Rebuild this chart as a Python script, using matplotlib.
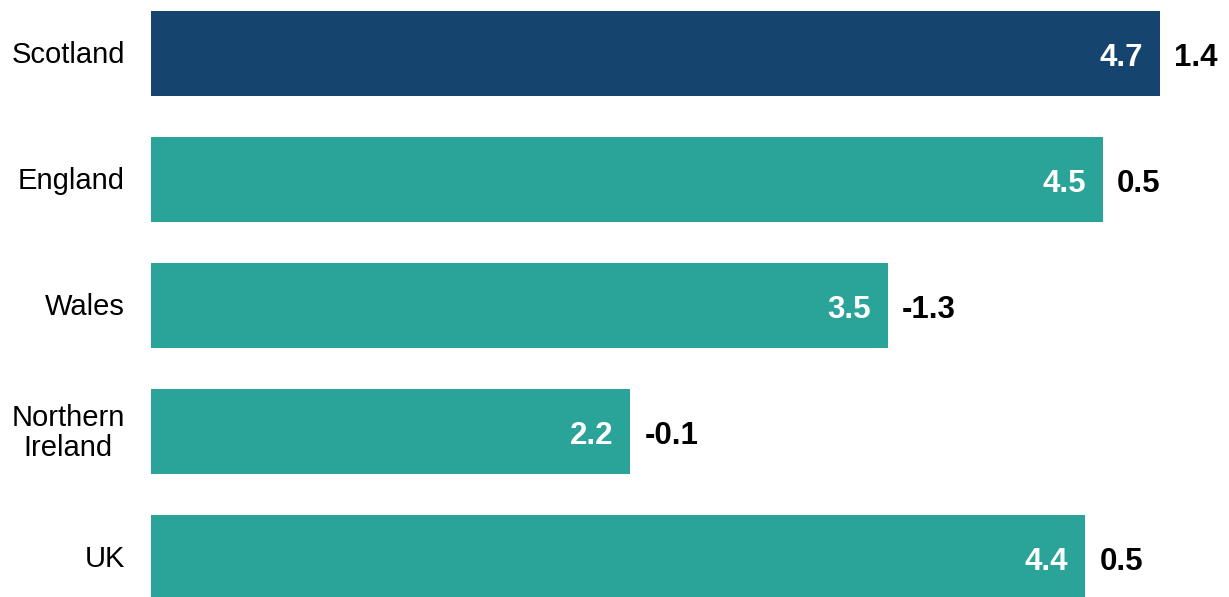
import matplotlib
matplotlib.use("Agg")
import matplotlib.pyplot as plt

categories = ["Scotland", "England", "Wales", "Northern\nIreland", "UK"]
bar_values = [4.730, 4.463, 3.455, 2.248, 4.381]
value_labels = ["4.7", "4.5", "3.5", "2.2", "4.4"]
change_labels = ["1.4", "0.5", "-1.3", "-0.1", "0.5"]
colors = ["#15446E", "#2AA398", "#2AA398", "#2AA398", "#2AA398"]

plt.rcParams['font.family'] = ['Liberation Sans', 'DejaVu Sans']

fig = plt.figure(figsize=(12.29, 5.97), dpi=100)
ax = fig.add_axes([0, 0, 1, 1])

pos = list(range(len(categories)))
ax.barh(pos, bar_values, height=0.667, color=colors)

ppu = 213.3
x0 = 150.7
ax.set_xlim(-x0 / ppu, (1229 - x0) / ppu)
ax.set_ylim((597 - 53.5) / 126, -53.5 / 126)

for p, v, lab, ch in zip(pos, bar_values, value_labels, change_labels):
    ax.annotate(lab, (v, p), xytext=(-17, -13), textcoords="offset pixels",
                ha="right", va="baseline", color="white", fontsize=22.5,
                fontweight="bold")
    ax.annotate(ch, (v, p), xytext=(14.5, -13), textcoords="offset pixels",
                ha="left", va="baseline", color="black", fontsize=22.5,
                fontweight="bold")

line_step = 31
for p, cat in zip(pos, categories):
    n = cat.count("\n") + 1
    dy = -(9.3 + (n - 1) * line_step / 2)
    ax.annotate(cat, (0, p), xytext=(-26, dy), textcoords="offset pixels",
                ha="right", va="baseline", color="black", fontsize=21,
                multialignment="center", linespacing=1.1)

ax.axis("off")
fig.savefig("out.png", dpi=100)
